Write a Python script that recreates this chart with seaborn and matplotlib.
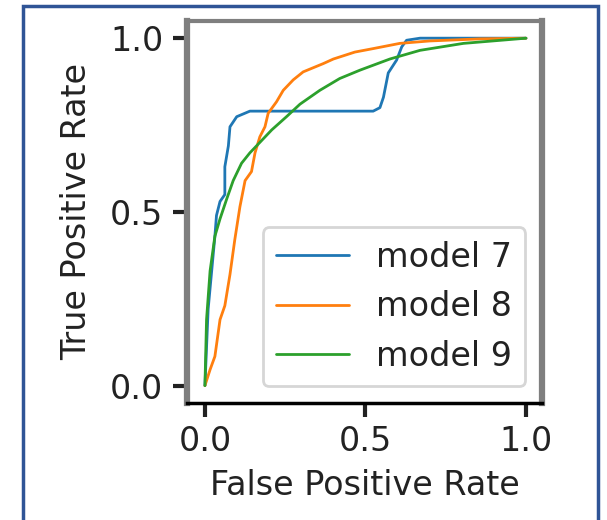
import matplotlib
matplotlib.use("Agg")
import matplotlib.pyplot as plt
import pandas as pd
import seaborn as sns
from matplotlib.patches import Rectangle

# ROC curves
fpr_7 = [0.0, 0.01, 0.031, 0.036, 0.047, 0.062, 0.062, 0.073, 0.078, 0.099, 0.14,
         0.524, 0.545, 0.556, 0.571, 0.597, 0.613, 0.628, 0.67, 1.0]
tpr_7 = [0.0, 0.22, 0.43, 0.49, 0.53, 0.55, 0.63, 0.69, 0.745, 0.774, 0.79,
         0.79, 0.80, 0.83, 0.90, 0.937, 0.975, 0.994, 1.0, 1.0]

fpr_8 = [0.0, 0.016, 0.031, 0.047, 0.062, 0.078, 0.093, 0.109, 0.125, 0.145, 0.156,
         0.171, 0.187, 0.197, 0.223, 0.244, 0.275, 0.306, 0.369, 0.40, 0.467,
         0.524, 0.607, 0.70, 0.857, 1.0]
tpr_8 = [0.0, 0.046, 0.084, 0.19, 0.23, 0.32, 0.42, 0.515, 0.59, 0.616, 0.67,
         0.716, 0.745, 0.784, 0.817, 0.85, 0.88, 0.903, 0.927, 0.94, 0.96,
         0.97, 0.985, 0.992, 0.998, 1.0]

fpr_9 = [0.0, 0.005, 0.016, 0.031, 0.047, 0.067, 0.088, 0.114, 0.14, 0.171, 0.208,
         0.254, 0.296, 0.358, 0.42, 0.483, 0.576, 0.67, 0.805, 1.0]
tpr_9 = [0.0, 0.19, 0.33, 0.43, 0.48, 0.535, 0.59, 0.64, 0.67, 0.70, 0.736,
         0.774, 0.81, 0.85, 0.884, 0.908, 0.94, 0.965, 0.985, 1.0]

models = ["model 7", "model 8", "model 9"]
colors = ["#1f77b4", "#ff7f0e", "#2ca02c"]

frames = []
for name, x, y in zip(models, [fpr_7, fpr_8, fpr_9], [tpr_7, tpr_8, tpr_9]):
    frames.append(pd.DataFrame({"fpr": x, "tpr": y, "model": name}))
df = pd.concat(frames, ignore_index=True)

sns.set_style("ticks")
plt.rcParams["font.family"] = ["DejaVu Sans"]

fig = plt.figure(figsize=(6.07, 5.2), dpi=100)
ax = fig.add_axes([0.308, 0.225, 0.585, 0.735])

sns.lineplot(data=df, x="fpr", y="tpr", hue="model", palette=colors,
             sort=False, estimator=None, linewidth=2, ax=ax)

ax.set_xticks([0.0, 0.5, 1.0])
ax.set_yticks([0.0, 0.5, 1.0])
ax.set_xlim(-0.056, 1.05)
ax.set_ylim(-0.05, 1.05)
ax.set_xlabel("False Positive Rate", fontsize=24, color="#222222", labelpad=8)
ax.set_ylabel("True Positive Rate", fontsize=24, color="#222222", labelpad=12)
ax.tick_params(labelsize=24, length=10, width=3, colors="#222222")
ax.tick_params(axis="y", pad=7)
ax.tick_params(axis="x", pad=6)

for side in ["left", "right"]:
    ax.spines[side].set_color("#7f7f7f")
    ax.spines[side].set_linewidth(4.5)
ax.spines["top"].set_color("#7f7f7f")
ax.spines["top"].set_linewidth(3)
ax.spines["bottom"].set_color("black")
ax.spines["bottom"].set_linewidth(2.5)

leg = ax.legend(loc="lower right", fontsize=24, handlelength=2.2)
leg.get_frame().set_linewidth(2)
for t in leg.get_texts():
    t.set_color("#222222")

# outer blue frame
fig.patches.append(Rectangle((23 / 607, -0.05), 575 / 607, 1.05 - 6 / 520,
                             transform=fig.transFigure, fill=False,
                             edgecolor="#2f5496", linewidth=2.5))

fig.savefig("out.png", dpi=100)
